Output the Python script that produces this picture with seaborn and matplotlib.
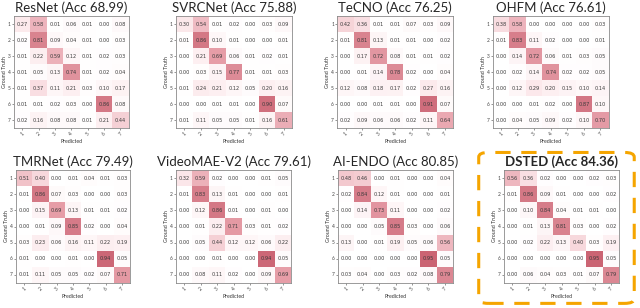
import numpy as np
import matplotlib
matplotlib.use("Agg")
import matplotlib.pyplot as plt
import seaborn as sns
from matplotlib.colors import LinearSegmentedColormap
from matplotlib.patches import FancyBboxPatch

sns.set_style("white")
plt.rcParams['font.family'] = ['Lato', 'DejaVu Sans']

classes = ["1", "2", "3", "4", "5", "6", "7"]

resnet = [[0.27, 0.58, 0.01, 0.06, 0.01, 0.00, 0.08],
          [0.02, 0.81, 0.09, 0.04, 0.01, 0.00, 0.03],
          [0.01, 0.22, 0.59, 0.12, 0.01, 0.02, 0.03],
          [0.01, 0.05, 0.13, 0.74, 0.01, 0.02, 0.04],
          [0.01, 0.37, 0.11, 0.21, 0.03, 0.10, 0.17],
          [0.01, 0.01, 0.02, 0.03, 0.00, 0.86, 0.08],
          [0.02, 0.16, 0.08, 0.08, 0.01, 0.21, 0.44]]

svrcnet = [[0.30, 0.54, 0.01, 0.02, 0.00, 0.03, 0.09],
           [0.01, 0.86, 0.10, 0.01, 0.00, 0.00, 0.01],
           [0.00, 0.21, 0.69, 0.06, 0.01, 0.02, 0.01],
           [0.00, 0.03, 0.15, 0.77, 0.01, 0.01, 0.03],
           [0.01, 0.24, 0.21, 0.12, 0.05, 0.20, 0.16],
           [0.00, 0.00, 0.01, 0.01, 0.00, 0.90, 0.07],
           [0.01, 0.11, 0.05, 0.05, 0.01, 0.16, 0.61]]

tecno = [[0.42, 0.36, 0.01, 0.01, 0.07, 0.03, 0.09],
         [0.01, 0.81, 0.13, 0.01, 0.01, 0.00, 0.02],
         [0.00, 0.17, 0.72, 0.08, 0.01, 0.01, 0.02],
         [0.00, 0.01, 0.14, 0.78, 0.02, 0.00, 0.04],
         [0.12, 0.08, 0.18, 0.17, 0.02, 0.27, 0.16],
         [0.00, 0.00, 0.01, 0.01, 0.00, 0.91, 0.07],
         [0.02, 0.09, 0.06, 0.06, 0.02, 0.11, 0.64]]

ohfm = [[0.38, 0.58, 0.00, 0.00, 0.00, 0.00, 0.03],
        [0.01, 0.83, 0.11, 0.02, 0.00, 0.00, 0.01],
        [0.00, 0.14, 0.72, 0.06, 0.01, 0.03, 0.05],
        [0.00, 0.02, 0.14, 0.74, 0.02, 0.02, 0.05],
        [0.00, 0.12, 0.29, 0.20, 0.15, 0.10, 0.14],
        [0.00, 0.00, 0.01, 0.02, 0.00, 0.87, 0.10],
        [0.00, 0.04, 0.05, 0.09, 0.02, 0.10, 0.70]]

tmrnet = [[0.51, 0.40, 0.00, 0.01, 0.04, 0.01, 0.03],
          [0.01, 0.86, 0.07, 0.03, 0.00, 0.00, 0.03],
          [0.00, 0.15, 0.69, 0.13, 0.01, 0.01, 0.02],
          [0.00, 0.01, 0.09, 0.85, 0.02, 0.00, 0.04],
          [0.03, 0.23, 0.06, 0.16, 0.11, 0.22, 0.19],
          [0.01, 0.00, 0.00, 0.01, 0.00, 0.94, 0.05],
          [0.01, 0.11, 0.05, 0.05, 0.02, 0.07, 0.71]]

videomae = [[0.32, 0.59, 0.02, 0.00, 0.00, 0.01, 0.05],
            [0.01, 0.83, 0.13, 0.01, 0.00, 0.00, 0.01],
            [0.00, 0.12, 0.86, 0.01, 0.00, 0.01, 0.00],
            [0.00, 0.01, 0.22, 0.71, 0.03, 0.01, 0.02],
            [0.00, 0.05, 0.44, 0.12, 0.12, 0.06, 0.22],
            [0.00, 0.00, 0.01, 0.00, 0.00, 0.94, 0.05],
            [0.00, 0.08, 0.11, 0.02, 0.00, 0.09, 0.69]]

aiendo = [[0.48, 0.46, 0.00, 0.01, 0.00, 0.00, 0.04],
          [0.02, 0.84, 0.12, 0.01, 0.00, 0.00, 0.01],
          [0.00, 0.14, 0.73, 0.11, 0.00, 0.00, 0.02],
          [0.00, 0.00, 0.05, 0.85, 0.03, 0.00, 0.06],
          [0.13, 0.00, 0.01, 0.19, 0.05, 0.06, 0.56],
          [0.00, 0.00, 0.00, 0.00, 0.00, 0.95, 0.05],
          [0.03, 0.04, 0.00, 0.03, 0.02, 0.08, 0.79]]

dsted = [[0.56, 0.36, 0.02, 0.00, 0.00, 0.02, 0.03],
         [0.01, 0.86, 0.09, 0.01, 0.00, 0.00, 0.02],
         [0.00, 0.10, 0.84, 0.04, 0.01, 0.01, 0.00],
         [0.00, 0.01, 0.13, 0.81, 0.03, 0.00, 0.02],
         [0.00, 0.02, 0.22, 0.13, 0.40, 0.03, 0.19],
         [0.00, 0.00, 0.00, 0.00, 0.00, 0.95, 0.05],
         [0.00, 0.06, 0.04, 0.03, 0.01, 0.07, 0.79]]

titles = ["ResNet (Acc 68.99)", "SVRCNet (Acc 75.88)", "TeCNO (Acc 76.25)", "OHFM (Acc 76.61)",
          "TMRNet (Acc 79.49)", "VideoMAE-V2 (Acc 79.61)", "AI-ENDO (Acc 80.85)", "DSTED (Acc 84.36)"]
matrices = [resnet, svrcnet, tecno, ohfm, tmrnet, videomae, aiendo, dsted]

# axes rectangles in figure fractions
positions = [(0.022, 0.584, 0.179, 0.364), (0.275, 0.584, 0.181, 0.364),
             (0.527, 0.584, 0.181, 0.364), (0.770, 0.584, 0.181, 0.364),
             (0.025, 0.081, 0.178, 0.367), (0.275, 0.081, 0.180, 0.367),
             (0.528, 0.081, 0.180, 0.367), (0.7875, 0.081, 0.180, 0.367)]

cmap = LinearSegmentedColormap.from_list("rose", ["#ffffff", "#fbe5e8", "#e8a2ac", "#c65a6a"])

fig = plt.figure(figsize=(6.4, 3.08), dpi=100)

for i, (mat, title, pos) in enumerate(zip(matrices, titles, positions)):
    ax = fig.add_axes(pos)
    sns.heatmap(np.array(mat), annot=True, fmt=".2f", cmap=cmap, vmin=0, vmax=1,
                cbar=False, ax=ax, xticklabels=classes, yticklabels=classes,
                annot_kws={"fontsize": 3.6, "color": "#3a3a3a", "family": "DejaVu Sans"})
    for s in ax.spines.values():
        s.set_visible(True)
        s.set_color("#8a8a8a")
        s.set_linewidth(0.6)
    ax.tick_params(axis="both", length=1.5, width=0.4, pad=0.8, labelsize=3.5, colors="#444444",
                   left=True, bottom=True)
    ax.set_yticklabels(classes, rotation=0)
    ax.set_xticklabels(classes, rotation=45)
    ax.set_xlabel("Predicted", fontsize=3.8, labelpad=1.5, color="#333333")
    ax.set_ylabel("Ground Truth", fontsize=3.8, labelpad=0.8, color="#333333")
    ax.set_title(title, fontsize=9.5, pad=3, fontweight="bold" if i == 7 else "normal")

box = FancyBboxPatch((0.748, 0.015), 0.243, 0.49, boxstyle="round,pad=0,rounding_size=0.015",
                     transform=fig.transFigure, fill=False, edgecolor="#f5a500",
                     linewidth=2.2, linestyle=(0, (5, 3.5)))
fig.patches.append(box)

fig.savefig("out.png", dpi=100)
